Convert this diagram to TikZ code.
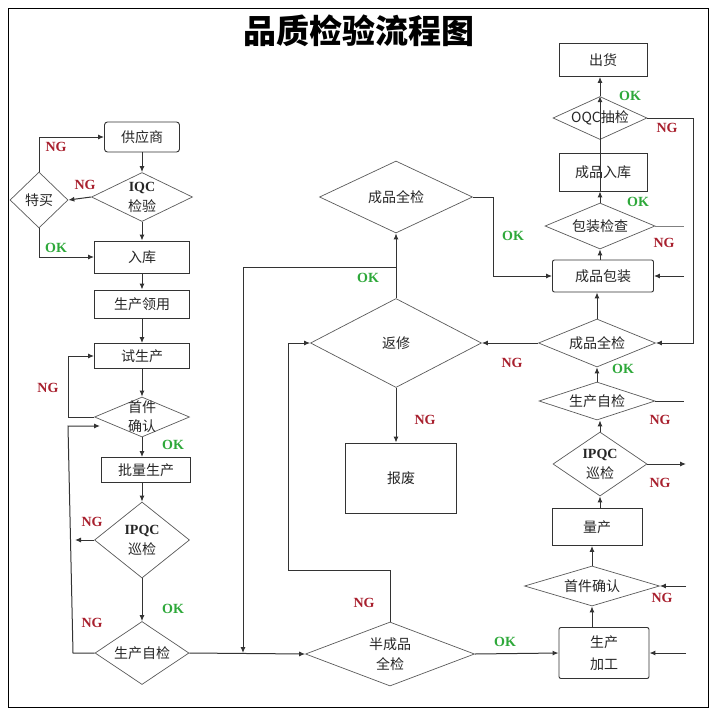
\documentclass[tikz,border=0pt]{standalone}
\usepackage{fontspec}
\setmainfont{Liberation Serif}
\newfontfamily\cjk{Noto Sans CJK SC}
\usetikzlibrary{shapes.geometric,arrows.meta,calc}
\definecolor{lc}{HTML}{333333}
\definecolor{dc}{HTML}{5A5A5A}
\definecolor{ngred}{HTML}{A8202E}
\definecolor{okgreen}{HTML}{2EA83A}
\begin{document}
\begin{tikzpicture}[x=1pt,y=-1pt,
  txt/.style={font=\cjk\fontsize{14}{20}\selectfont, text=black!85, align=center},
  box/.style={txt, draw=lc, line width=0.9pt, inner sep=0pt},
  dia/.style={diamond, draw=dc, line width=0.7pt, inner sep=0pt},
  ng/.style={font=\bfseries\fontsize{14}{14}\selectfont, text=ngred},
  ok/.style={font=\bfseries\fontsize{14}{14}\selectfont, text=okgreen},
  ln/.style={draw=lc, line width=1pt},
  arr/.style={ln, -{Latex[length=6pt,width=5pt]}},
]
\useasboundingbox (0,0) rectangle (718,718);
\draw[black, line width=1pt] (8,8) rectangle (708,707);
\node[font=\cjk\bfseries\fontsize{33}{35}\selectfont] (title) at (359,31) {品质检验流程图};

% ---------- left column ----------
\node[box, minimum width=75pt, minimum height=30pt, rounded corners=3pt] (gys) at (142,137) {供应商};
\node[dia, minimum width=101pt, minimum height=49pt, label={[txt]center:{{\rmfamily\bfseries IQC}\\检验}}] (iqc) at (142,197) {};
\node[dia, minimum width=58pt, minimum height=56pt, label={[txt]center:特买}] (tm) at (39,200) {};
\node[box, minimum width=95pt, minimum height=32pt] (rk) at (142,257) {入库};
\node[box, minimum width=95pt, minimum height=28pt] (sclj) at (142,304) {生产领用};
\node[box, minimum width=95pt, minimum height=25pt] (ssc) at (142,356) {试生产};
\node[dia, minimum width=95pt, minimum height=40pt, label={[txt, font=\cjk\fontsize{14}{19}\selectfont]center:{首件\\确认}}] (sjqr) at (142,417) {};
\node[box, minimum width=89pt, minimum height=25pt] (plsc) at (146,470) {批量生产};
\node[dia, minimum width=95pt, minimum height=76pt, label={[txt]center:{{\rmfamily\bfseries IPQC}\\巡检}}] (ipqc1) at (142,540) {};
\node[dia, minimum width=94pt, minimum height=63pt, label={[txt]center:生产自检}] (zj1) at (142,653) {};

\coordinate (l1) at (68,0);
\coordinate (l2) at (73,653);
\coordinate (l3) at (68,426);
\coordinate (c2) at (100,426);
\coordinate (c1) at (75,540);

\draw[arr] (gys) -- (iqc);
\draw[arr] (iqc.west) -- (tm.east);
\draw[arr] (tm.north) |- (gys.west);
\draw[arr] (tm.south) |- (rk.west);
\draw[arr] (iqc) -- (rk);
\draw[arr] (rk) -- (sclj);
\draw[arr] (sclj) -- (ssc);
\draw[arr] (ssc) -- (sjqr);
\draw[arr] (sjqr.south) -- (sjqr.south |- plsc.north);
\draw[arr] (sjqr.west) -- (sjqr.west -| l1) |- (ssc.west);
\draw[arr] (plsc.south -| ipqc1.north) -- (ipqc1.north);
\draw[arr] (ipqc1.west) -- (c1);
\draw[arr] (ipqc1) -- (zj1);
\draw[arr] (zj1.west) -- (l2) -- (l3) -- (c2);

\node[ng] (ng1) at (56,147) {NG};
\node[ng] (ng2) at (85,185) {NG};
\node[ok] (ok1) at (56,248) {OK};
\node[ng] (ng3) at (48,388) {NG};
\node[ok] (ok2) at (173,445) {OK};
\node[ng] (ng4) at (92,522) {NG};
\node[ng] (ng5) at (92,623) {NG};
\node[ok] (ok3) at (173,609) {OK};

% ---------- middle ----------
\node[dia, minimum width=153pt, minimum height=72pt, label={[txt]center:成品全检}] (cpqj1) at (396,197) {};
\node[dia, minimum width=171pt, minimum height=89pt, label={[txt]center:返修}] (fx) at (396,343) {};
\node[box, minimum width=111pt, minimum height=70pt] (bf) at (401,478) {报废};
\node[dia, minimum width=169pt, minimum height=64pt, label={[txt]center:{半成品\\全检}}] (bcp) at (390,654) {};

\coordinate (j1) at (243,267);
\coordinate (j2) at (243,653);
\coordinate (k1) at (288,570);

\draw[arr] (zj1.east) -- (bcp.west);
\draw[arr] (fx.north) -- (cpqj1.south);
\draw[arr] (fx.north |- j1) -- (j1) -- (j2);
\draw[arr] (bcp.north) |- (k1) |- (fx.west);
\draw[arr] (fx.south) -- (fx.south |- bf.north);

\node[ok] (ok4) at (368,278) {OK};
\node[ng] (ng6) at (425,420) {NG};
\node[ng] (ng7) at (364,603) {NG};
\node[ok] (ok5) at (505,642) {OK};

% ---------- right column ----------
\node[box, minimum width=88pt, minimum height=33pt] (ch) at (603,60) {出货};
\node[dia, minimum width=94pt, minimum height=43pt, label={[txt]center:OQC抽检}] (oqc) at (600,118) {};
\node[box, minimum width=88pt, minimum height=38pt] (cprk) at (603,172) {成品入库};
\node[dia, minimum width=110pt, minimum height=46pt, label={[txt]center:包装检查}] (bzjc) at (600,226) {};
\node[box, minimum width=101pt, minimum height=32pt, rounded corners=2pt] (cpbz) at (603,276) {成品包装};
\node[dia, minimum width=117pt, minimum height=48pt, label={[txt]center:成品全检}] (cpqj2) at (597,343) {};
\node[dia, minimum width=116pt, minimum height=38pt, label={[txt]center:生产自检}] (zj2) at (597,401) {};
\node[dia, minimum width=94pt, minimum height=64pt, label={[txt]center:{{\rmfamily\bfseries IPQC}\\巡检}}] (ipqc2) at (600,464) {};
\node[box, minimum width=90pt, minimum height=37pt] (lc2) at (597,527) {量产};
\node[dia, minimum width=135pt, minimum height=40pt, label={[txt]center:首件确认}] (sj2) at (592,586) {};
\node[box, minimum width=90pt, minimum height=51pt, rounded corners=2pt, font=\cjk\fontsize{14}{22}\selectfont] (scjg) at (604,653) {生产\\加工};

\coordinate (r1) at (693,118);
\coordinate (r2) at (684,226);
\coordinate (r3) at (684,276);
\coordinate (r4) at (684,401);
\coordinate (r5) at (686,464);
\coordinate (r6) at (686,586);
\coordinate (r7) at (686,653);
\coordinate (m1) at (493,0);

\draw[arr] (cpqj1.east) -- (cpqj1.east -| m1) |- (cpbz.west);
\draw[arr] (cpqj2.west) -- (fx.east);
\draw[arr] (bcp.east) -- (scjg.west);

\draw[arr] (scjg.north -| sj2.south) -- (sj2.south);
\draw[arr] (sj2.north) -- (sj2.north |- lc2.south);
\draw[arr] (lc2.north -| ipqc2.south) -- (ipqc2.south);
\draw[arr] (ipqc2.north) -- (ipqc2.north |- zj2.south);
\draw[arr] (zj2.north -| cpqj2.south) -- (cpqj2.south);
\draw[arr] (cpqj2.north) -- (cpqj2.north |- cpbz.south);
\draw[arr] (cpbz.north -| bzjc.south) -- (bzjc.south);
\draw[arr] (bzjc.north) -- (bzjc.north |- cprk.south);
\draw[arr] (cprk.south -| oqc.north) -- (oqc.north);
\draw[arr] (oqc.north) -- (oqc.north |- ch.south);

\draw[arr] (oqc.east) -- (r1) |- (cpqj2.east);
\draw[draw=gray, line width=0.8pt] (bzjc.east) -- (r2);
\draw[arr] (r3) -- (cpbz.east);
\draw[ln] (zj2.east) -- (r4);
\draw[arr] (ipqc2.east) -- (r5);
\draw[arr] (r6) -- (sj2.east);
\draw[arr] (r7) -- (scjg.east);

\node[ok] (ok6) at (630,96) {OK};
\node[ng] (ng8) at (667,128) {NG};
\node[ok] (ok7) at (638,202) {OK};
\node[ng] (ng9) at (664,243) {NG};
\node[ok] (ok8) at (513,236) {OK};
\node[ng] (ng10) at (512,363) {NG};
\node[ok] (ok9) at (623,369) {OK};
\node[ng] (ng11) at (660,420) {NG};
\node[ng] (ng12) at (660,483) {NG};
\node[ng] (ng13) at (662,598) {NG};
\end{tikzpicture}
\end{document}
